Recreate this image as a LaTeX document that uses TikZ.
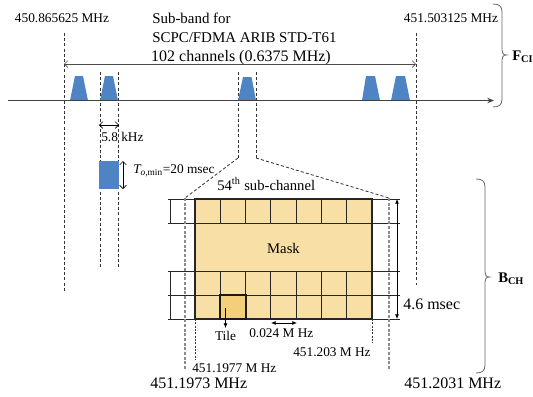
\documentclass[tikz,border=0pt]{standalone}
\usepackage{fontspec}
\setmainfont{Liberation Serif}
\usetikzlibrary{arrows.meta}
\definecolor{chblue}{RGB}{78,132,196}
\definecolor{wheat}{RGB}{247,223,166}
\definecolor{tilec}{RGB}{244,207,122}
\begin{document}
\begin{tikzpicture}[x=0.75pt,y=-0.75pt,
  t10/.style={inner sep=0pt,font=\fontsize{10}{12}\selectfont},
  t11/.style={inner sep=0pt,font=\fontsize{11}{13}\selectfont},
  t12/.style={inner sep=0pt,font=\fontsize{12}{14}\selectfont},
  tb/.style={inner sep=0pt,font=\fontsize{11}{13}\selectfont\bfseries},
  dline/.style={dash pattern=on 2.3pt off 1.6pt,line width=0.6pt,black!80},
  gline/.style={dash pattern=on 2.3pt off 1.2pt,line width=0.8pt,black!45},
  fline/.style={dash pattern=on 1.5pt off 1pt,line width=0.5pt,black!80},
  chev/.style={line width=0.5pt,{Straight Barb[length=2.5pt,width=5pt]}-{Straight Barb[length=2.5pt,width=5pt]}},
  fill2/.style={line width=0.6pt,{Latex[length=3.5pt,width=3pt]}-{Latex[length=3.5pt,width=3pt]}},
  brc/.style={line width=0.6pt,black!60},
  gridl/.style={line width=0.6pt,black!85},
  band/.style={fill=chblue}]
\useasboundingbox (0,0) rectangle (533,397);

% ---------- top labels ----------
\node[t10,anchor=base] (f1) at (62,22) {450.865625 MHz};
\node[t11,anchor=base west,font=\fontsize{11.2}{13}\selectfont] (sb1) at (152,23) {Sub-band for};
\node[t11,anchor=base west,font=\fontsize{11.2}{13}\selectfont] (sb2) at (152,42) {SCPC/FDMA ARIB STD-T61};
\node[t10,anchor=base] (f2) at (451,22) {451.503125 MHz};
\node[t12,anchor=base] (nch) at (241,61) {102 channels (0.6375 MHz)};

% ---------- coordinates ----------
\coordinate (l1t) at (64,33);   \coordinate (l1b) at (64,292);
\coordinate (l2t) at (100,72);  \coordinate (l2b) at (100,267);
\coordinate (l3t) at (118,72);  \coordinate (l3b) at (118,267);
\coordinate (l4t) at (238,72);  \coordinate (l4b) at (238,158);
\coordinate (l5t) at (256,72);  \coordinate (l5b) at (256,158);
\coordinate (l6t) at (416,33);  \coordinate (l6b) at (416,285);
\coordinate (gl) at (185,198);  \coordinate (glb) at (185,370);
\coordinate (gr) at (389,198);  \coordinate (grb) at (389,370);
\coordinate (al) at (64,64);    \coordinate (ar) at (416,64);
\coordinate (ax0) at (8,100.5); \coordinate (ax1) at (494,100.5);

% ---------- dashed guide lines ----------
\draw[dline] (l1t) -- (l1b);
\draw[dline] (l2t) -- (l2b);
\draw[dline] (l3t) -- (l3b);
\draw[dline] (l4t) -- (l4b);
\draw[dline] (l5t) -- (l5b);
\draw[dline] (l6t) -- (l6b);
\draw[dline] (l4b) -- (gl);
\draw[dline] (l5b) -- (gr);

% ---------- channel span arrow ----------
\draw[chev,black!70] (al) -- (ar);

% ---------- sub-bands ----------
\fill[band] (70,100.5) -- (75,76) -- (83,76) -- (88,100.5) -- cycle;
\fill[band] (100,100.5) -- (105,76) -- (113,76) -- (118,100.5) -- cycle;
\fill[band] (238,100.5) -- (243,77) -- (251.5,77) -- (256,100.5) -- cycle;
\fill[band] (362,100.5) -- (366,76) -- (375,76) -- (380,100.5) -- cycle;
\fill[band] (391,100.5) -- (396,76) -- (405,76) -- (410,100.5) -- cycle;

% ---------- frequency axis ----------
\draw[line width=1.3pt,black!75,-{Stealth[length=5pt,width=4pt]}] (ax0) -- (ax1);

% ---------- 5.8 kHz ----------
\coordinate (k1) at (99,125); \coordinate (k2) at (119,125);
\draw[chev] (k1) -- (k2);
\node[t10,anchor=base west] (khz) at (101,141) {5.8 kHz};

% ---------- time slot ----------
\node[fill=chblue,inner sep=0pt,minimum width=15pt,minimum height=21pt] (blk) at (109,175) {};
\coordinate (v1) at (123,161); \coordinate (v2) at (123,189);
\draw[chev] (v1) -- (v2);
\node[t10,anchor=base west] (tmin) at (133,173) {{\itshape T}\textsubscript{{\itshape o},min}=20 msec};

% ---------- sub-channel grid ----------
\node[t11,anchor=base west] (sub) at (217,190) {54\textsuperscript{th} sub-channel};
\fill[wheat] (195,199) rectangle (372,319);
\fill[tilec] (220.3,295) rectangle (245.6,319);
\foreach \y in {199,223,271,295,319} \draw[gridl] (168,\y) -- (400,\y);
\foreach \k in {1,...,6} {
  \draw[gridl] ({195+25.2857*\k},199) -- ({195+25.2857*\k},223);
  \draw[gridl] ({195+25.2857*\k},271) -- ({195+25.2857*\k},319);
}
\draw[gridl] (170,199) -- (170,223);
\draw[gridl] (170,271) -- (170,319);
\draw[line width=1.5pt,black!85] (195,199) rectangle (372,319);
\draw[line width=1.4pt,black!90] (220.3,295) rectangle (245.6,319);
\node[t11] (mask) at (283.5,248) {Mask};

\draw[gline] (gl) -- (glb);
\draw[gline] (gr) -- (grb);

% time arrow
\coordinate (ta) at (397,199); \coordinate (tb) at (397,319);
\draw[fill2] (ta) -- (tb);
\node[t12,anchor=base west] (ms) at (403,309) {4.6 msec};

% tile
\coordinate (tc) at (225.5,308); \coordinate (td) at (225.5,328);
\draw[line width=0.5pt,-{Latex[length=3.5pt,width=3pt]}] (tc) -- (td);
\node[t10,anchor=base] (tile) at (225.5,340) {Tile};

% 0.024 MHz
\coordinate (c1) at (271,323); \coordinate (c2) at (297,323);
\draw[fill2] (c1) -- (c2);
\node[t10,anchor=base west] (cw) at (249,337) {0.024 M Hz};

% edge frequencies
\coordinate (e1) at (195,319); \coordinate (e1b) at (195,360);
\coordinate (e2) at (372,319); \coordinate (e2b) at (372,343);
\draw[fline] (e1) -- (e1b);
\draw[fline] (e2) -- (e2b);
\node[t10,anchor=base west] (fr1) at (293,356) {451.203 M Hz};
\node[t10,anchor=base west] (fr2) at (192,372) {451.1977 M Hz};
\node[t12,anchor=base west] (fr3) at (150,388) {451.1973 MHz};
\node[t12,anchor=base west] (fr4) at (404,388) {451.2031 MHz};

% ---------- braces ----------
\draw[brc] (493,4) .. controls (499,4) and (502,6) .. (502,12) -- (502,50)
  .. controls (502,53) and (503,55) .. (506.5,55)
  .. controls (503,55) and (502,57) .. (502,60) -- (502,99)
  .. controls (502,105) and (499,107) .. (493,107);
\node[tb,anchor=base west] (fci) at (512,60) {F\textsubscript{CI}};

\draw[brc] (476,179) .. controls (482,179) and (485,181) .. (485,187) -- (485,272)
  .. controls (485,275) and (486,277) .. (489.5,277)
  .. controls (486,277) and (485,279) .. (485,282) -- (485,365)
  .. controls (485,371) and (482,373) .. (476,373);
\node[tb,anchor=base west] (bch) at (498,282) {B\textsubscript{CH}};
\end{tikzpicture}
\end{document}
